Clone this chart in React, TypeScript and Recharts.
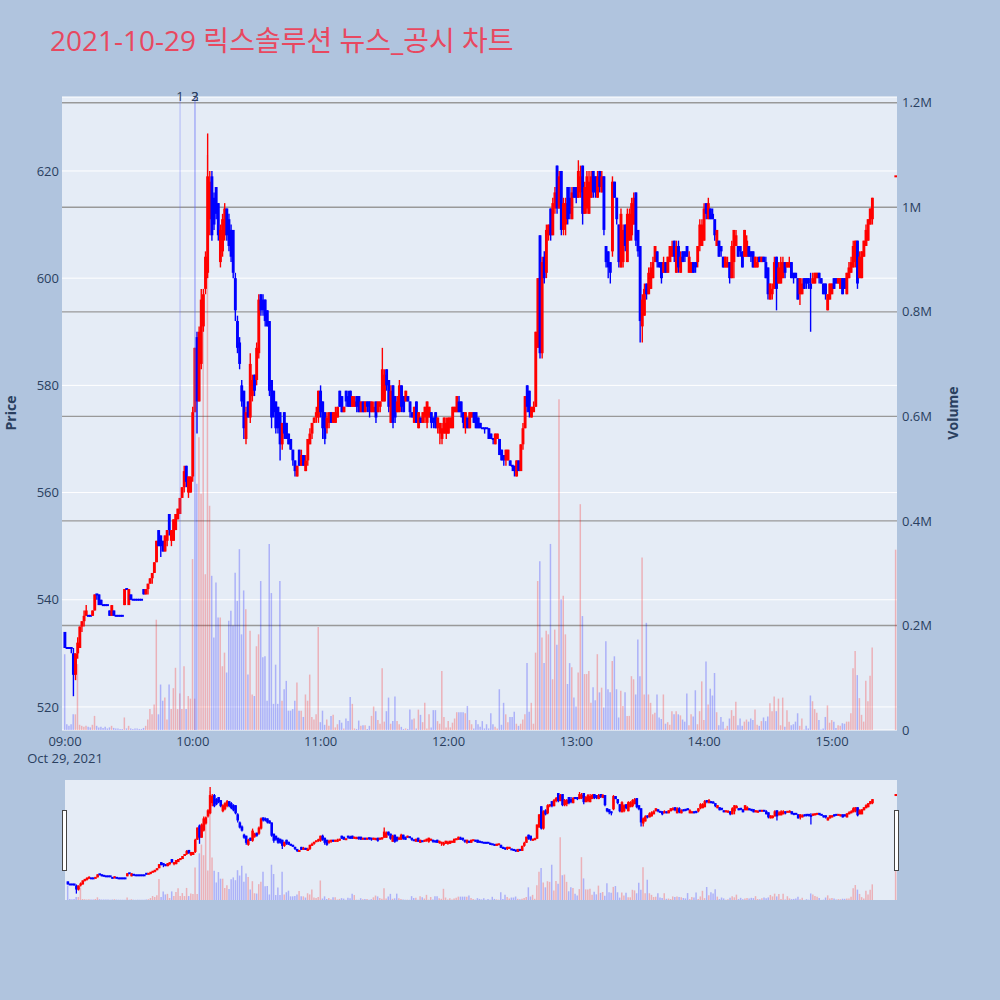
import React from "react";
import {
  Bar, CartesianGrid, Cell, ComposedChart, ReferenceLine, XAxis, YAxis,
} from "recharts";

const TITLE = "2021-10-29 릭스솔루션 뉴스_공시 차트";
const DATE_LABEL = "Oct 29, 2021";

// regular session, one candle per minute from SESSION_START
const SESSION_START = "09:00";
const OPEN = [
  534, 531, 531, 531, 530, 526, 530, 531, 535, 536, 537, 537, 537, 537, 538, 541, 541, 540, 539, 539,
  539, 538, 537, 538, 537, 537, 537, 537, 539, 542, 539, 541, 540, 540, 540, 540, 540, 542, 541, 542,
  543, 544, 545, 547, 553, 552, 551, 549, 551, 556, 551, 551, 553, 555, 556, 559, 561, 565, 560, 560,
  563, 575, 589, 577, 584, 591, 598, 601, 611, 619, 615, 617, 614, 603, 605, 608, 613, 611, 609, 609,
  600, 592, 588, 580, 579, 570, 577, 574, 578, 582, 581, 586, 597, 596, 596, 594, 592, 581, 579, 577,
  576, 575, 569, 575, 573, 571, 570, 568, 566, 563, 568, 565, 567, 564, 566, 569, 571, 573, 574, 574,
  579, 577, 575, 572, 573, 575, 573, 573, 574, 579, 578, 575, 579, 578, 579, 576, 576, 578, 578, 575,
  577, 575, 577, 577, 575, 575, 577, 575, 576, 577, 577, 583, 581, 573, 580, 578, 575, 575, 580, 578,
  577, 578, 577, 575, 573, 577, 572, 574, 573, 574, 573, 574, 575, 574, 575, 572, 571, 570, 571, 571,
  571, 572, 572, 575, 575, 577, 577, 575, 572, 574, 572, 574, 575, 575, 574, 573, 572, 572, 572, 572,
  571, 570, 569, 570, 570, 568, 567, 566, 566, 566, 565, 565, 563, 566, 564, 569, 572, 580, 579, 574,
  575, 576, 587, 608, 586, 604, 601, 608, 613, 608, 613, 621, 613, 620, 609, 610, 617, 615, 611, 617,
  617, 615, 616, 621, 612, 613, 612, 615, 620, 619, 615, 620, 616, 619, 606, 605, 603, 605, 618, 615,
  610, 602, 603, 610, 603, 607, 608, 610, 616, 609, 606, 591, 593, 599, 597, 598, 600, 603, 605, 603,
  603, 601, 603, 601, 603, 604, 607, 601, 606, 601, 605, 605, 606, 601, 601, 603, 603, 603, 606, 606,
  607, 614, 611, 613, 612, 611, 606, 607, 606, 604, 602, 602, 603, 600, 603, 606, 606, 606, 605, 604,
  604, 606, 605, 605, 602, 602, 604, 603, 604, 603, 602, 596, 597, 598, 604, 599, 599, 600, 603, 602,
  602, 603, 601, 601, 600, 597, 597, 600, 600, 600, 599, 599, 599, 600, 601, 600, 599, 599, 594, 596,
  597, 600, 600, 599, 598, 600, 600, 597, 600, 601, 602, 603, 607, 600, 600, 604, 606, 607, 610, 611,
];
const HIGH = [
  534, 531, 531, 531, 531, 530, 533, 535, 536, 538, 539, 537, 537, 538, 541, 541, 541, 540, 539, 539,
  539, 538, 539, 538, 537, 537, 537, 537, 542, 542, 542, 541, 540, 540, 540, 540, 540, 542, 542, 543,
  544, 545, 547, 551, 553, 552, 551, 552, 553, 556, 553, 555, 556, 557, 559, 561, 565, 565, 563, 563,
  576, 587, 590, 591, 598, 598, 605, 627, 620, 620, 616, 617, 614, 610, 612, 614, 613, 612, 610, 609,
  601, 593, 589, 581, 579, 576, 577, 586, 582, 582, 588, 597, 597, 597, 596, 594, 592, 581, 579, 577,
  576, 575, 573, 575, 573, 571, 570, 568, 566, 565, 568, 568, 567, 567, 570, 572, 573, 574, 576, 579,
  580, 577, 575, 575, 575, 575, 575, 576, 576, 579, 578, 576, 579, 579, 579, 578, 578, 578, 578, 577,
  577, 577, 577, 577, 577, 577, 577, 577, 577, 587, 583, 583, 581, 580, 580, 578, 578, 581, 580, 578,
  579, 578, 577, 575, 576, 577, 575, 574, 575, 576, 577, 576, 575, 574, 575, 574, 573, 573, 574, 574,
  574, 574, 576, 576, 578, 578, 577, 575, 575, 574, 575, 575, 575, 575, 574, 573, 572, 572, 572, 572,
  571, 570, 571, 571, 570, 568, 567, 568, 568, 566, 565, 565, 566, 566, 569, 573, 578, 580, 579, 576,
  577, 590, 600, 608, 604, 605, 610, 610, 613, 615, 617, 621, 620, 620, 615, 615, 617, 617, 617, 617,
  617, 622, 621, 621, 618, 620, 620, 620, 620, 619, 620, 620, 620, 619, 606, 605, 603, 619, 618, 615,
  610, 613, 610, 610, 613, 613, 615, 616, 616, 609, 606, 597, 599, 599, 602, 603, 604, 606, 605, 603,
  603, 604, 603, 604, 606, 607, 607, 607, 607, 605, 605, 605, 606, 605, 603, 603, 603, 606, 611, 611,
  614, 614, 615, 613, 613, 611, 609, 607, 606, 604, 604, 604, 603, 607, 609, 609, 606, 606, 605, 609,
  608, 606, 605, 605, 604, 604, 604, 604, 604, 604, 602, 599, 599, 604, 604, 603, 604, 604, 603, 603,
  604, 603, 601, 601, 600, 600, 600, 600, 600, 600, 601, 601, 601, 601, 601, 600, 599, 599, 597, 599,
  599, 600, 600, 600, 600, 600, 600, 601, 603, 604, 607, 607, 607, 605, 605, 607, 610, 611, 613, 615,
];
const LOW = [
  531, 531, 531, 530, 522, 525, 529, 531, 534, 535, 537, 537, 537, 537, 538, 540, 539, 539, 539, 539,
  539, 537, 537, 537, 537, 537, 537, 537, 539, 542, 539, 540, 540, 540, 540, 540, 540, 541, 541, 541,
  543, 543, 545, 547, 550, 548, 549, 549, 550, 552, 550, 551, 553, 555, 556, 559, 560, 561, 559, 560,
  562, 575, 571, 577, 583, 590, 597, 600, 608, 607, 609, 611, 607, 602, 604, 607, 607, 605, 603, 600,
  592, 586, 583, 576, 570, 569, 574, 573, 577, 578, 580, 585, 593, 593, 591, 591, 578, 572, 574, 571,
  571, 566, 568, 570, 570, 569, 568, 565, 563, 563, 565, 565, 565, 564, 565, 569, 570, 573, 573, 573,
  574, 570, 569, 571, 572, 573, 573, 573, 574, 576, 575, 575, 576, 576, 576, 576, 576, 575, 575, 575,
  575, 575, 575, 574, 575, 575, 573, 575, 575, 577, 577, 579, 575, 573, 572, 573, 575, 575, 575, 575,
  577, 577, 574, 574, 573, 573, 572, 573, 573, 573, 572, 574, 572, 572, 572, 571, 569, 569, 571, 570,
  571, 572, 572, 575, 575, 575, 574, 572, 571, 572, 572, 574, 573, 572, 572, 572, 572, 571, 572, 570,
  570, 569, 569, 570, 567, 566, 565, 565, 566, 565, 564, 563, 563, 564, 564, 568, 572, 575, 574, 574,
  575, 576, 587, 585, 585, 599, 600, 607, 607, 608, 612, 612, 613, 608, 608, 608, 610, 611, 611, 615,
  614, 615, 615, 610, 612, 612, 612, 615, 615, 615, 615, 616, 616, 608, 602, 600, 599, 604, 615, 610,
  602, 602, 602, 605, 603, 607, 607, 610, 606, 604, 588, 588, 593, 596, 597, 598, 600, 603, 602, 602,
  599, 601, 601, 601, 603, 604, 603, 601, 601, 601, 603, 603, 604, 601, 601, 601, 601, 602, 605, 606,
  607, 611, 611, 611, 611, 607, 606, 604, 604, 602, 602, 602, 599, 600, 600, 606, 604, 604, 602, 604,
  604, 604, 603, 602, 602, 602, 603, 603, 603, 600, 596, 596, 596, 598, 594, 599, 599, 600, 600, 602,
  602, 600, 599, 600, 596, 595, 597, 598, 598, 598, 590, 599, 599, 600, 599, 599, 597, 596, 594, 596,
  597, 598, 599, 599, 598, 597, 598, 597, 600, 601, 602, 602, 598, 600, 600, 604, 606, 607, 610, 610,
];
const CLOSE = [
  531, 531, 531, 531, 526, 530, 532, 535, 536, 537, 538, 537, 537, 538, 541, 541, 539, 539, 539, 539,
  539, 537, 539, 537, 537, 537, 537, 537, 542, 542, 542, 540, 540, 540, 540, 540, 540, 541, 542, 543,
  544, 545, 547, 551, 550, 550, 549, 552, 553, 553, 553, 555, 556, 557, 559, 561, 564, 562, 563, 563,
  575, 587, 577, 590, 596, 597, 604, 619, 618, 608, 610, 612, 608, 609, 611, 613, 608, 606, 604, 601,
  594, 587, 584, 577, 572, 575, 574, 584, 581, 579, 587, 596, 594, 594, 592, 591, 579, 574, 575, 572,
  572, 569, 573, 571, 570, 569, 568, 566, 564, 565, 565, 567, 565, 566, 570, 571, 573, 574, 575, 579,
  575, 572, 570, 574, 575, 573, 575, 575, 576, 576, 575, 576, 577, 576, 576, 578, 577, 576, 575, 577,
  575, 577, 576, 575, 577, 576, 574, 577, 577, 583, 582, 580, 576, 579, 573, 574, 577, 580, 576, 575,
  579, 577, 575, 574, 576, 573, 575, 573, 575, 576, 577, 576, 573, 573, 572, 574, 573, 572, 574, 573,
  574, 574, 576, 576, 578, 575, 575, 573, 575, 572, 575, 575, 573, 572, 572, 572, 572, 572, 572, 570,
  570, 570, 571, 571, 567, 566, 566, 568, 568, 565, 565, 564, 566, 564, 569, 572, 578, 576, 575, 576,
  576, 590, 600, 586, 603, 600, 609, 610, 608, 614, 616, 613, 619, 609, 614, 614, 611, 612, 616, 615,
  615, 620, 619, 612, 617, 619, 618, 619, 616, 616, 619, 617, 619, 609, 603, 602, 601, 618, 615, 611,
  603, 612, 609, 606, 612, 612, 614, 615, 607, 605, 592, 596, 598, 597, 601, 602, 603, 606, 603, 602,
  600, 603, 601, 604, 606, 606, 604, 606, 602, 604, 603, 604, 604, 604, 603, 601, 602, 606, 610, 610,
  613, 612, 614, 611, 611, 608, 609, 604, 605, 602, 604, 603, 600, 606, 609, 608, 604, 605, 602, 609,
  607, 604, 604, 602, 604, 603, 603, 604, 603, 600, 597, 599, 598, 603, 598, 602, 603, 603, 601, 603,
  603, 600, 600, 600, 596, 600, 599, 598, 599, 599, 598, 600, 601, 601, 600, 599, 597, 597, 597, 599,
  599, 598, 599, 600, 600, 597, 598, 601, 602, 603, 606, 607, 599, 604, 605, 607, 609, 611, 613, 615,
];
// thousand shares
const VOLUME = [
  145, 11, 8, 11, 30, 30, 126, 10, 8, 6, 8, 6, 5, 10, 27, 8, 5, 6, 4, 6,
  3, 5, 8, 4, 3, 3, 2, 2, 24, 3, 8, 3, 2, 3, 3, 2, 2, 4, 8, 20,
  40, 30, 49, 211, 30, 87, 56, 62, 20, 87, 40, 80, 119, 40, 70, 40, 122, 40, 65, 60,
  327, 60, 471, 560, 452, 780, 298, 1100, 429, 295, 177, 282, 215, 215, 122, 148, 110, 209, 228, 200,
  301, 247, 346, 183, 267, 231, 106, 190, 68, 65, 160, 183, 285, 139, 141, 56, 356, 262, 50, 125,
  50, 285, 56, 78, 94, 37, 37, 40, 56, 91, 37, 37, 25, 68, 56, 106, 25, 20, 30, 197,
  15, 37, 10, 20, 8, 27, 29, 5, 11, 19, 14, 3, 22, 17, 63, 50, 3, 2, 18, 8,
  9, 9, 2, 8, 27, 45, 36, 19, 12, 118, 16, 36, 62, 12, 17, 64, 17, 11, 6, 2,
  3, 2, 39, 20, 22, 3, 39, 29, 15, 52, 3, 30, 5, 38, 38, 17, 12, 113, 25, 5,
  17, 5, 14, 22, 34, 34, 34, 34, 32, 46, 19, 11, 3, 19, 11, 6, 17, 3, 11, 3,
  32, 11, 6, 3, 78, 10, 52, 30, 15, 25, 25, 35, 12, 8, 12, 20, 30, 128, 35, 52,
  12, 148, 285, 323, 177, 128, 190, 183, 356, 97, 192, 163, 633, 250, 257, 183, 88, 128, 120, 62,
  45, 110, 432, 218, 107, 107, 113, 52, 82, 57, 145, 72, 81, 43, 170, 78, 72, 132, 141, 78,
  24, 75, 46, 72, 27, 27, 103, 97, 68, 173, 103, 330, 68, 205, 68, 52, 30, 33, 68, 24,
  21, 68, 12, 15, 10, 36, 30, 36, 30, 28, 20, 16, 70, 9, 30, 26, 76, 11, 36, 93,
  19, 131, 49, 79, 66, 109, 34, 9, 25, 16, 3, 8, 22, 38, 27, 54, 9, 22, 8, 16,
  20, 16, 22, 19, 39, 10, 8, 17, 24, 17, 26, 51, 36, 64, 36, 60, 9, 62, 6, 38,
  16, 9, 11, 16, 32, 8, 22, 1, 8, 3, 66, 55, 40, 33, 19, 1, 3, 25, 47, 14,
  19, 16, 4, 9, 8, 13, 12, 16, 16, 32, 118, 151, 105, 61, 29, 16, 94, 55, 104, 158,
];

// closing auction: open, high, low, close, volume (thousand shares)
const AUCTION_TIME = "15:30";
const AUCTION = [619, 619, 619, 619, 345];

const NEWS_LABELS = ["1", "2", "3"];
const NEWS_TIMES = ["09:54", "10:01", "10:01"];

const PRICE_TICKS = [520, 540, 560, 580, 600, 620];
const VOLUME_TICKS = [0, 200, 400, 600, 800, 1000, 1200];
const TIME_TICKS = ["09:00", "10:00", "11:00", "12:00", "13:00", "14:00", "15:00"];

const PRICE_DOMAIN: [number, number] = [515.7, 633.8];
const VOLUME_DOMAIN: [number, number] = [0, 1211];

const FONT = "'Open Sans', 'Noto Sans CJK KR', sans-serif";
const TEXT = "#2a3f5f";
const PAGE_BG = "#b0c4de";
const PLOT_BG = "#e5ecf6";
const RED = "#ff0000";
const BLUE = "#0000ff";
const VOL_RED = "rgba(255,0,0,0.25)";
const VOL_BLUE = "rgba(0,0,255,0.25)";

const toMin = (s: string) => {
  const [h, m] = s.split(":").map(Number);
  return h * 60 + m;
};
const fmtMin = (m: number) =>
  `${String(Math.floor(m / 60)).padStart(2, "0")}:${String(m % 60).padStart(2, "0")}`;

type Row = {
  t: number; o: number; h: number; l: number; c: number; v: number;
  up: boolean; range: [number, number];
};

const rows: Row[] = [];
let prevClose = NaN;
function addRow(t: number, o: number, h: number, l: number, c: number, v: number) {
  // plotly rule: flat candles take the colour of the move from the previous close
  const up = c > o || (c === o && c > prevClose);
  rows.push({ t, o, h, l, c, v, up, range: [l, h] });
  prevClose = c;
}
OPEN.forEach((o, i) => addRow(toMin(SESSION_START) + i, o, HIGH[i], LOW[i], CLOSE[i], VOLUME[i]));
addRow(toMin(AUCTION_TIME), AUCTION[0], AUCTION[1], AUCTION[2], AUCTION[3], AUCTION[4]);

const T0 = toMin(TIME_TICKS[0]);
const TIME_DOMAIN: [number, number] = [T0 - 1.41, T0 + 390.5];

function makeCandle(bodyW: number, wickW: number) {
  return (p: any) => {
    const { x, y, width, height, payload } = p;
    if (!payload || !Number.isFinite(x) || !Number.isFinite(y)) return <g />;
    const cx = x + width / 2;
    const span = payload.h - payload.l;
    const py = (v: number) => (span > 0 ? y + ((payload.h - v) / span) * height : y);
    const col = payload.up ? RED : BLUE;
    const yo = py(payload.o);
    const yc = py(payload.c);
    let top = Math.min(yo, yc);
    let bh = Math.abs(yo - yc);
    if (bh < 2) { top -= (2 - bh) / 2; bh = 2; }
    return (
      <g>
        <line x1={cx} x2={cx} y1={py(payload.h)} y2={py(payload.l)} stroke={col} strokeWidth={wickW} />
        <rect x={cx - bodyW / 2} y={top} width={bodyW} height={bh} fill={col} />
      </g>
    );
  };
}
const mainCandle = makeCandle(2.9, 1.4);
const sliderCandle = makeCandle(2.6, 1.3);

function TimeTick(props: any) {
  const { x, y, payload } = props;
  const m = payload.value as number;
  return (
    <g>
      <text x={x} y={y + 16} textAnchor="middle" fill={TEXT} fontSize={13} fontFamily={FONT}>
        {fmtMin(m)}
      </text>
      {m === T0 && (
        <text x={x} y={y + 33} textAnchor="middle" fill={TEXT} fontSize={13} fontFamily={FONT}>
          {DATE_LABEL}
        </text>
      )}
    </g>
  );
}

const tickStyle = { fill: TEXT, fontSize: 13, fontFamily: FONT };

export default function App() {
  return (
    <div style={{ position: "absolute", left: 0, top: 0, width: 1000, height: 1000, background: PAGE_BG, fontFamily: FONT, overflow: "hidden" }}>
      <div style={{ position: "absolute", left: 50, top: 26, fontSize: 28, lineHeight: "28px", color: "#e84860", whiteSpace: "nowrap" }}>
        {TITLE}
      </div>

      <div style={{ position: "absolute", left: 62, top: 97, width: 835, height: 633, background: PLOT_BG }} />
      <div style={{ position: "absolute", left: 65, top: 780, width: 832, height: 120, background: PLOT_BG }} />

      <div style={{ position: "absolute", left: 10, top: 413, transform: "translate(-50%, -50%) rotate(-90deg)", fontSize: 14, fontWeight: 700, color: TEXT }}>
        Price
      </div>
      <div style={{ position: "absolute", left: 952, top: 413, transform: "translate(-50%, -50%) rotate(-90deg)", fontSize: 14, fontWeight: 700, color: TEXT }}>
        Volume
      </div>

      <div style={{ position: "absolute", left: 0, top: 0 }}>
        <ComposedChart width={1000} height={780} data={rows} margin={{ top: 97, right: 3, bottom: 20, left: 2 }}>
          <XAxis
            xAxisId="time" dataKey="t" type="number" domain={TIME_DOMAIN} ticks={TIME_TICKS.map(toMin)}
            allowDataOverflow axisLine={false} tickLine={false} tickSize={0} tickMargin={0} height={30}
            tick={<TimeTick />} interval={0}
          />
          <XAxis xAxisId="vol" dataKey="t" type="number" domain={TIME_DOMAIN} allowDataOverflow hide />
          <YAxis
            yAxisId="price" orientation="left" type="number" domain={PRICE_DOMAIN} ticks={PRICE_TICKS}
            allowDataOverflow width={60} axisLine={false} tickLine={false} tickSize={0} tickMargin={3}
            tick={tickStyle} interval={0}
          />
          <YAxis
            yAxisId="vol" orientation="right" type="number" domain={VOLUME_DOMAIN} ticks={VOLUME_TICKS}
            allowDataOverflow width={100} axisLine={false} tickLine={false} tickSize={0} tickMargin={5}
            tick={{ ...tickStyle, textAnchor: "start" }} interval={0}
            tickFormatter={(v: number) => (v === 0 ? "0" : `${v / 1000}M`)}
          />
          <CartesianGrid xAxisId="time" yAxisId="price" vertical={false} stroke="#ffffff" strokeWidth={1} />
          <CartesianGrid
            xAxisId="time" yAxisId="vol" vertical={false} stroke="#999999" strokeWidth={1.4}
            horizontalValues={VOLUME_TICKS.filter((v) => v > 0)}
          />
          <Bar xAxisId="vol" yAxisId="vol" dataKey="v" barSize={1.5} isAnimationActive={false}>
            {rows.map((r, i) => <Cell key={i} fill={r.up ? VOL_RED : VOL_BLUE} />)}
          </Bar>
          <Bar xAxisId="time" yAxisId="price" dataKey="range" barSize={3} shape={mainCandle} isAnimationActive={false} />
          {NEWS_TIMES.map((tm, i) => (
            <ReferenceLine
              key={i} xAxisId="time" yAxisId="price" x={toMin(tm)}
              stroke="rgba(99,110,250,0.4)" strokeWidth={1}
              label={{ value: NEWS_LABELS[i], position: "top", offset: -4, fill: TEXT, fontSize: 13, fontFamily: FONT }}
            />
          ))}
        </ComposedChart>
      </div>

      <div style={{ position: "absolute", left: 0, top: 780 }}>
        <ComposedChart width={1000} height={120} data={rows} margin={{ top: 0, right: 103, bottom: 0, left: 65 }}>
          <XAxis xAxisId="time" dataKey="t" type="number" domain={TIME_DOMAIN} allowDataOverflow hide />
          <XAxis xAxisId="vol" dataKey="t" type="number" domain={TIME_DOMAIN} allowDataOverflow hide />
          <YAxis yAxisId="price" type="number" domain={PRICE_DOMAIN} allowDataOverflow hide />
          <YAxis yAxisId="vol" orientation="right" type="number" domain={VOLUME_DOMAIN} allowDataOverflow hide />
          <Bar xAxisId="vol" yAxisId="vol" dataKey="v" barSize={1.5} isAnimationActive={false}>
            {rows.map((r, i) => <Cell key={i} fill={r.up ? VOL_RED : VOL_BLUE} />)}
          </Bar>
          <Bar xAxisId="time" yAxisId="price" dataKey="range" barSize={3} shape={sliderCandle} isAnimationActive={false} />
        </ComposedChart>
      </div>

      <div style={{ position: "absolute", left: 62, top: 810, width: 3, height: 59, background: "#fff", border: "1px solid #444" }} />
      <div style={{ position: "absolute", left: 894, top: 810, width: 3, height: 59, background: "#fff", border: "1px solid #444" }} />
    </div>
  );
}
